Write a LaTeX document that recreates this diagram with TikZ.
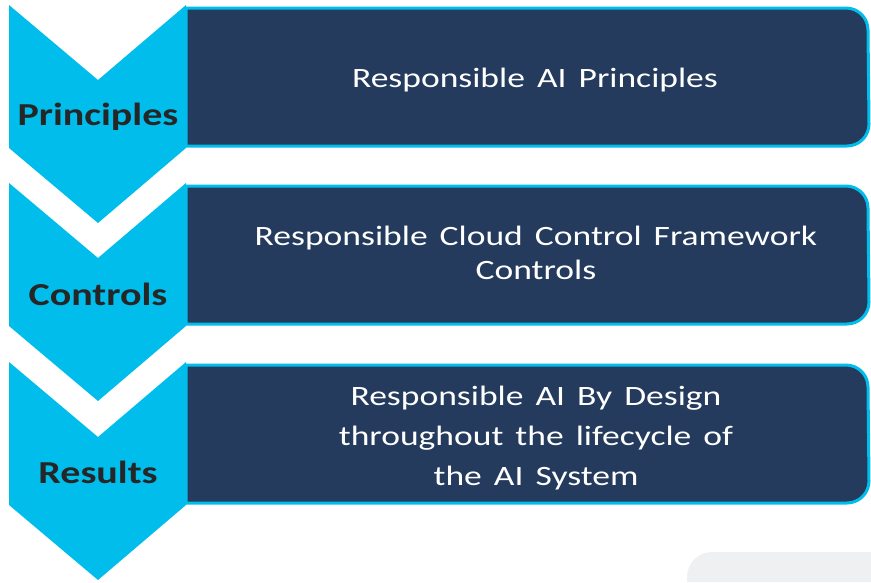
\documentclass[tikz,border=0pt]{standalone}
\usepackage{fontspec}
\setmainfont{Carlito}[FakeStretch=1.25, WordSpace=1.5]
\newfontfamily\boxfont{Carlito}[FakeStretch=1.27, WordSpace=1.5]
\usepackage{tikz}
\usetikzlibrary{calc}

\definecolor{chevcyan}{RGB}{0,189,235}
\definecolor{boxnavy}{RGB}{36,59,93}
\definecolor{labdark}{RGB}{38,38,38}
\definecolor{cornergrey}{RGB}{239,240,242}

\tikzset{
    chevron/.style={fill=chevcyan, draw=none},
    stagebox/.style={fill=boxnavy, draw=chevcyan, line width=3pt},
    labtext/.style={text=labdark, font=\fontsize{32}{36}\selectfont\bfseries, inner sep=0pt},
    boxtext/.style={text=white, font=\boxfont\fontsize{28}{40}\selectfont, align=center, inner sep=0pt}
}

\begin{document}
\begin{tikzpicture}[x=1pt,y=1pt]
        \useasboundingbox (0,0) rectangle (871,-582);
        % chevrons and boxes, one row each
        \foreach \t in {5,183,362}
        {
        \fill[chevron] (9,-\t) -- (98,-\t-75) -- (186,-\t) -- (186,-\t-143)
            -- (98,-\t-218) -- (9,-\t-143) -- cycle;
        \draw[stagebox] (186,-\t-3) -- (846,-\t-3) arc[start angle=90,end angle=0,radius=22]
            -- (869,-\t-119) arc[start angle=0,end angle=-90,radius=22] -- (186,-\t-141) -- cycle;
        }
        \fill[cornergrey] (871,-552) -- (712,-552) arc[start angle=90,end angle=180,radius=25]
            -- (687,-582) -- (871,-582) -- cycle;
        % labels
        \node[labtext, anchor=base] (labPrinciples) at (98,-125) {Principles};
        \node[labtext, anchor=base] (labControls) at (98,-305) {Controls};
        \node[labtext, anchor=base] (labResults) at (98,-483) {Results};
        % box texts
        \node[boxtext, anchor=base] (txtPrinciples) at (535,-87) {Responsible AI Principles};
        \node[boxtext, font=\boxfont\fontsize{28}{34}\selectfont] (txtControls) at (536,-253)
            {Responsible Cloud Control Framework\\Controls};
        \node[boxtext] (txtResults) at (536,-438) {Responsible AI By Design\\throughout the lifecycle of\\the AI System};
    \end{tikzpicture}
\end{document}
